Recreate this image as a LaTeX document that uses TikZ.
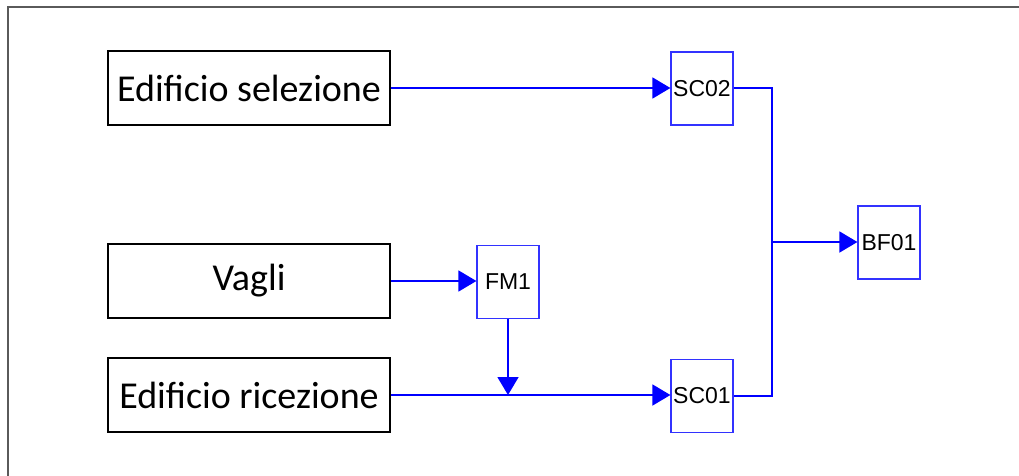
\documentclass[tikz,border=0pt]{standalone}
\usepackage{fontspec}
\setmainfont{Liberation Sans}
\newfontfamily\bigfont{Carlito}
\usetikzlibrary{arrows.meta}
\definecolor{flowblue}{RGB}{0,0,255}
\definecolor{boxblue}{RGB}{50,50,255}
\definecolor{framegray}{RGB}{90,90,90}
\tikzset{
  bigbox/.style={draw=black, line width=1.3pt, minimum width=282pt, minimum height=74pt, inner sep=0pt, font=\bigfont\fontsize{38}{42}\selectfont},
  smallbox/.style={draw=boxblue, line width=1.2pt, minimum width=62pt, minimum height=73pt, inner sep=0pt, font=\fontsize{23}{25}\selectfont},
  flow/.style={draw=flowblue, line width=1.6pt},
  flowarrow/.style={flow, -{Triangle[length=18pt,width=21pt]}},
}
\begin{document}
\begin{tikzpicture}[x=1pt,y=-1pt]
\useasboundingbox (0,0) rectangle (1019,476);
\draw[framegray, line width=2pt] (7.5,476) -- (7.5,7) -- (1019,7);
\node[bigbox] (es) at (249,88) {Edificio selezione};
\node[bigbox] (vg) at (249,281) {Vagli};
\node[bigbox] (er) at (249,395) {Edificio ricezione};
\node[smallbox] (sc02) at (702,88.5) {SC02};
\node[smallbox] (fm1) at (508,282) {FM1};
\node[smallbox] (sc01) at (702,396) {SC01};
\node[smallbox] (bf01) at (889,242.5) {BF01};
\coordinate (top) at (772,88);
\coordinate (mid) at (772,242);
\coordinate (bot) at (772,396);
\draw[flowarrow] (es.east) -- (sc02.west |- es.east);
\draw[flowarrow] (vg.east) -- (fm1.west |- vg.east);
\draw[flowarrow] (er.east) -- (sc01.west |- er.east);
\draw[flowarrow] (fm1.south) -- (fm1.south |- er.east);
\draw[flow] (sc02.east |- top) -- (top) -- (bot) -- (sc01.east |- bot);
\draw[flowarrow] (mid) -- (bf01.west |- mid);
\end{tikzpicture}
\end{document}
